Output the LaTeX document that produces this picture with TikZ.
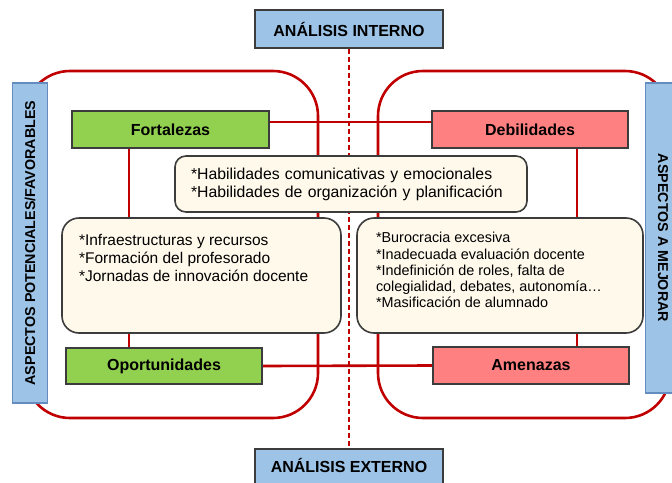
\documentclass[tikz,border=0pt]{standalone}
\usepackage{fontspec}
\setmainfont{Liberation Sans}
\usetikzlibrary{backgrounds}
\definecolor{titleblue}{RGB}{157,195,230}
\definecolor{sideedge}{RGB}{100,140,190}
\definecolor{swotgreen}{RGB}{146,208,80}
\definecolor{swotpink}{RGB}{255,128,128}
\definecolor{notecream}{RGB}{255,249,236}
\definecolor{swotred}{RGB}{192,0,0}
\definecolor{edgegray}{RGB}{60,60,60}

\tikzset{
  titlebox/.style={draw=edgegray, line width=1.5pt, fill=titleblue, minimum width=188pt, minimum height=38pt, inner sep=0pt, font=\fontsize{16}{19}\selectfont\bfseries},
  sidebox/.style={draw=sideedge, line width=1.2pt, fill=titleblue, minimum height=35pt, inner sep=0pt, font=\fontsize{14.3}{17}\selectfont\bfseries},
  quadbox/.style={draw=edgegray, line width=1.5pt, minimum width=196pt, minimum height=37pt, inner sep=0pt, font=\fontsize{16}{19}\selectfont\bfseries},
  notebox/.style={draw=edgegray, line width=1.6pt, fill=notecream, rounded corners=17pt, inner ysep=0pt},
  redline/.style={draw=swotred, line width=2.6pt},
}

\begin{document}
\begin{tikzpicture}[x=1pt, y=-1pt]
  \useasboundingbox (0,0) rectangle (672,482);

  % Title boxes
  \node[titlebox] (interno) at (349,29) {ANÁLISIS INTERNO};
  \node[titlebox] (externo) at (349,468) {\raisebox{5pt}{ANÁLISIS EXTERNO}};

  % Side labels
  \node[sidebox, rotate=90, minimum width=320pt] (favor) at (30,243) {ASPECTOS POTENCIALES/FAVORABLES};
  \node[sidebox, rotate=-90, minimum width=310pt] (mejorar) at (663,238) {ASPECTOS A MEJORAR};

  % SWOT boxes
  \node[quadbox, fill=swotgreen, minimum width=197pt] (fort) at (170.5,129.5) {Fortalezas};
  \node[quadbox, fill=swotpink] (debil) at (530,129.5) {Debilidades};
  \node[quadbox, fill=swotgreen, minimum height=36pt] (oport) at (164,366) {Oportunidades};
  \node[quadbox, fill=swotpink] (amen) at (531,365.5) {Amenazas};

  % Notes
  \node[notebox, rounded corners=11pt, minimum width=352pt, minimum height=56pt, inner xsep=16pt,
        text width=320pt, align=left, font=\fontsize{15.8}{18}\selectfont] (comun) at (351,184)
    {*Habilidades comunicativas y emocionales\\{}*Habilidades de organización y planificación};
  \node[notebox, inner xsep=17pt, font=\fontsize{15.5}{18}\selectfont] (pos) at (201.5,275.5)
    {\parbox[c][115pt][t]{245pt}{\raggedright\vspace*{16pt}*Infraestructuras y recursos\\{}*Formación del profesorado\\{}*Jornadas de innovación docente}};
  \node[notebox, inner xsep=19pt, font=\fontsize{14.4}{16.25}\selectfont] (neg) at (500,275.5)
    {\parbox[c][115pt][t]{248pt}{\raggedright\vspace*{14.5pt}*Burocracia excesiva\\{}*Inadecuada evaluación docente\\{}*Indefinición de roles, falta de\\colegialidad, debates, autonomía…\\{}*Masificación de alumnado}};

  \coordinate (lv) at (129,0);
  \coordinate (rv) at (577,0);

  \begin{scope}[on background layer]
    % Frames
    \draw[redline, rounded corners=45pt] (25,71) rectangle (318,418);
    \draw[redline, rounded corners=45pt] (378,71) rectangle (670,418);

    % Links
    \draw[redline] ([yshift=7.5pt]fort.east) -- ([yshift=7.5pt]debil.west);
    \draw[redline] (oport.east) -- (amen.west);
    \draw[redline] (fort.south -| lv) -- (oport.north -| lv);
    \draw[redline] (debil.south -| rv) -- (amen.north -| rv);

    % Divider
    \draw[swotred, line width=2pt, dash pattern=on 5pt off 3pt] (interno.south) -- (externo.north);
  \end{scope}
\end{tikzpicture}
\end{document}
